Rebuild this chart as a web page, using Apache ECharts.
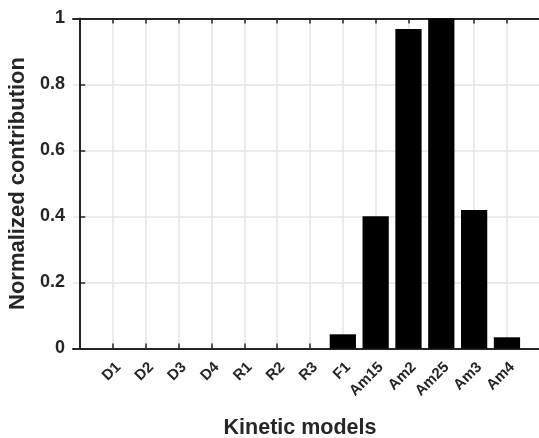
<!DOCTYPE html>
<html>
<head>
<meta charset="utf-8">
<script src="https://cdn.jsdelivr.net/npm/echarts@6/dist/echarts.min.js"></script>
<style>
  html, body { margin: 0; padding: 0; background: #fff; }
  #chart { width: 539px; height: 438px; }
</style>
</head>
<body>
<div id="chart"></div>
<script>
// Kinetic model names, in plotting order
const models = ['D1', 'D2', 'D3', 'D4', 'R1', 'R2', 'R3', 'F1', 'Am15', 'Am2', 'Am25', 'Am3', 'Am4'];
// Normalized contribution of each model
const contribution = [0, 0, 0, 0, 0, 0, 0, 0.043, 0.401, 0.968, 1.0, 0.42, 0.034];
// Y tick labels
const yTicks = [0, 0.2, 0.4, 0.6, 0.8, 1];

const positions = models.map((_, i) => i + 1);
const textColor = '#262626';
const font = 'Liberation Sans, Arial, sans-serif';
const BAR_FRACTION = 0.8;

const chart = echarts.init(document.getElementById('chart'), null, { renderer: 'canvas' });

const xCommon = {
  type: 'value',
  min: -0.22,
  max: 14.22,
  axisLine: { show: true, onZero: false, lineStyle: { color: '#262626', width: 2 } },
  axisTick: { show: true, inside: true, length: 5, customValues: positions, lineStyle: { color: '#262626', width: 1.5 } },
};

chart.setOption({
  animation: false,
  grid: { left: 73, top: 18.5, width: 474, height: 330, containLabel: false, outerBoundsMode: 'none' },
  xAxis: [
    Object.assign({}, xCommon, {
      position: 'bottom',
      name: 'Kinetic models',
      nameLocation: 'middle',
      nameGap: 69,
      nameTextStyle: { color: textColor, fontFamily: font, fontWeight: 'bold', fontSize: 21.5, padding: [0, 20, 0, 0] },
      axisLabel: {
        customValues: positions,
        formatter: v => models[Math.round(v) - 1] || '',
        rotate: 45,
        margin: 11,
        verticalAlign: 'top',
        color: textColor, fontFamily: font, fontWeight: 'bold', fontSize: 15
      },
      splitLine: { show: true, lineStyle: { color: '#e4e4e4', width: 1.5 } }
    }),
    Object.assign({}, xCommon, {
      position: 'top',
      axisLabel: { show: false },
      splitLine: { show: false }
    })
  ],
  yAxis: {
    type: 'value',
    min: 0, max: 1, interval: 0.2,
    name: 'Normalized contribution',
    nameLocation: 'middle',
    nameGap: 39,
    nameTextStyle: { color: textColor, fontFamily: font, fontWeight: 'bold', fontSize: 22 },
    axisLine: { show: true, lineStyle: { color: '#262626', width: 2 } },
    axisTick: { show: true, inside: true, length: 5, lineStyle: { color: '#262626', width: 1.5 } },
    axisLabel: {
      formatter: v => { const t = yTicks.find(y => Math.abs(y - v) < 1e-6); return t === undefined ? '' : String(t); },
      margin: 8,
      color: textColor, fontFamily: font, fontWeight: 'bold', fontSize: 18
    },
    splitLine: { show: true, lineStyle: { color: '#e4e4e4', width: 1.5 } }
  },
  series: [{
    // Bars drawn as rectangles through the axis scales (0.8 of a category step wide)
    type: 'custom',
    xAxisIndex: 0,
    data: positions.map((p, i) => [p, contribution[i]]),
    renderItem: (params, api) => {
      const x = api.value(0), v = api.value(1);
      const tl = api.coord([x - BAR_FRACTION / 2, v]);
      const br = api.coord([x + BAR_FRACTION / 2, 0]);
      return {
        type: 'rect',
        shape: { x: tl[0], y: tl[1], width: br[0] - tl[0], height: br[1] - tl[1] },
        style: { fill: '#000' }
      };
    },
    z: 3
  }]
});
</script>
</body>
</html>
